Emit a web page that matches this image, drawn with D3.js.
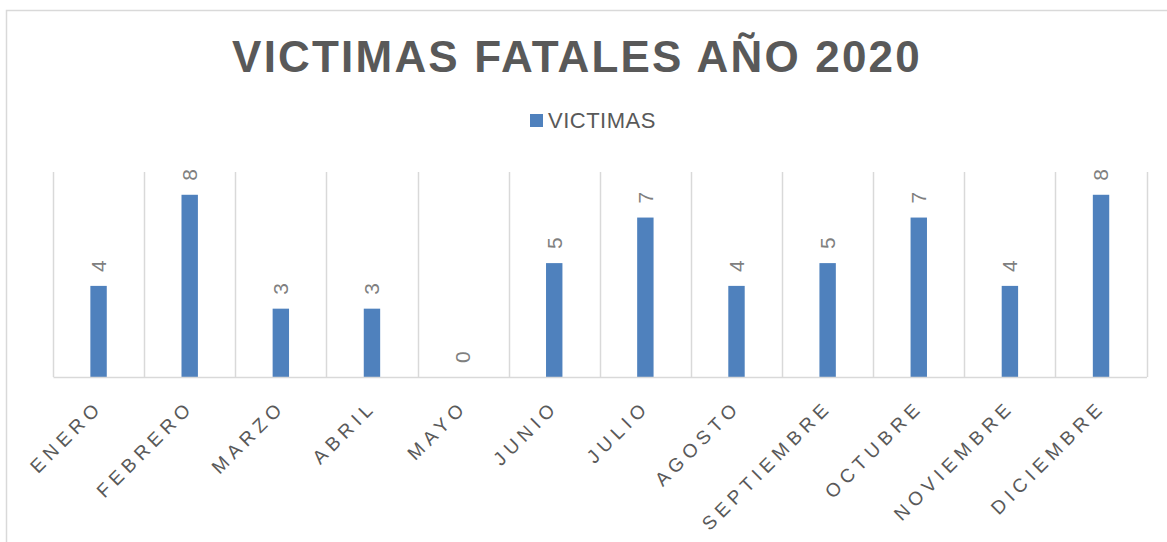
<!DOCTYPE html>
<html>
<head>
<meta charset="utf-8">
<script src="https://cdn.jsdelivr.net/npm/d3@7/dist/d3.min.js"></script>
<style>
  body { margin: 0; background: #ffffff; }
  svg { display: block; font-family: "Liberation Sans", Arial, sans-serif; }
</style>
</head>
<body>
<svg id="chart" width="1167" height="542"></svg>
<script>
// data
let months = ["ENERO", "FEBRERO", "MARZO", "ABRIL", "MAYO", "JUNIO",
              "JULIO", "AGOSTO", "SEPTIEMBRE", "OCTUBRE", "NOVIEMBRE", "DICIEMBRE"];
let victimas = [4, 8, 3, 3, 0, 5, 7, 4, 5, 7, 4, 8];
let seriesName = "VICTIMAS";
let chartTitle = "VICTIMAS FATALES AÑO 2020";

let svg = d3.select("svg#chart");

// outer chart border (runs off the right and bottom edge)
svg.append("rect")
    .attr("x", 6.5)
    .attr("y", 10.5)
    .attr("width", 1300)
    .attr("height", 700)
    .attr("fill", "none")
    .attr("stroke", "#d9d9d9")
    .attr("stroke-width", 1.5);

let plotLeft = 53, plotRight = 1146.6, plotTop = 172, plotBottom = 377;

let x = d3.scaleBand()
    .domain(months)
    .range([plotLeft, plotRight])
    .paddingInner(0)
    .paddingOuter(0);

let y = d3.scaleLinear()
    .domain([0, 9])
    .range([plotBottom, plotTop]);

// vertical separators between categories
let sepX = months.map(m => x(m)).concat([plotRight]);
svg.append("g").attr("id", "grid")
    .selectAll("line")
    .data(sepX)
    .enter().append("line")
    .attr("x1", d => Math.round(d) + 0.5)
    .attr("x2", d => Math.round(d) + 0.5)
    .attr("y1", plotTop)
    .attr("y2", plotBottom)
    .attr("stroke", "#d9d9d9")
    .attr("stroke-width", 1.5);

// bars
let barW = x.bandwidth() * 0.18;
svg.append("g").attr("id", "bars")
    .selectAll("rect")
    .data(victimas)
    .enter().append("rect")
    .attr("x", (d, i) => x(months[i]) + x.bandwidth() / 2 - barW / 2)
    .attr("y", d => y(d))
    .attr("width", barW)
    .attr("height", d => y(0) - y(d))
    .attr("fill", "#4f81bd");

// data labels, rotated
svg.append("g").attr("id", "labels")
    .selectAll("text")
    .data(victimas)
    .enter().append("text")
    .attr("transform", (d, i) => "translate(" + (x(months[i]) + x.bandwidth() / 2) + "," + (y(d) - 14) + ") rotate(-90)")
    .attr("dy", "0.35em")
    .attr("text-anchor", "start")
    .style("font-size", "21px")
    .attr("fill", "#7f7f7f")
    .text(d => d);

// x axis
let xAxis = d3.axisBottom(x).tickSize(0).tickSizeOuter(0);
let xGroup = svg.append("g")
    .attr("id", "x-axis")
    .attr("transform", "translate(0," + plotBottom + ")")
    .call(xAxis);

xGroup.select(".domain")
    .attr("stroke", "#d9d9d9")
    .attr("stroke-width", 1.5);

// rotated month names, last letter tucked under the band centre
xGroup.selectAll("text")
    .attr("x", null)
    .attr("y", null)
    .attr("dy", null)
    .attr("text-anchor", "end")
    .attr("transform", "translate(5.5,31) rotate(-45)")
    .attr("font-size", null)
    .style("font-size", "19px")
    .style("letter-spacing", "5.2px")
    .style("font-family", "\"Liberation Sans\", Arial, sans-serif")
    .attr("fill", "#595959");

// title
svg.append("text")
    .attr("x", 577)
    .attr("y", 72)
    .attr("text-anchor", "middle")
    .style("font-size", "44px")
    .style("font-weight", "bold")
    .style("letter-spacing", "2.2px")
    .attr("fill", "#595959")
    .text(chartTitle);

// legend
svg.append("rect")
    .attr("x", 530)
    .attr("y", 114)
    .attr("width", 13)
    .attr("height", 13)
    .attr("fill", "#4f81bd");

svg.append("text")
    .attr("x", 548)
    .attr("y", 128)
    .style("font-size", "22px")
    .style("letter-spacing", "0.5px")
    .attr("fill", "#595959")
    .text(seriesName);
</script>
</body>
</html>
